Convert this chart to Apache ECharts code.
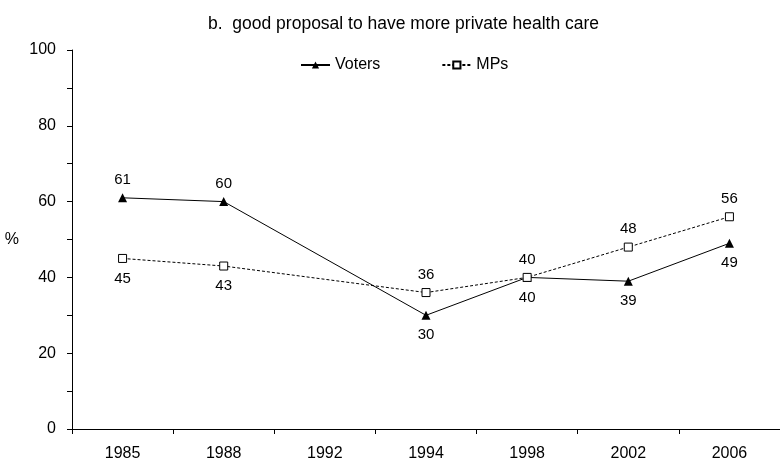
<!DOCTYPE html>
<html>
<head>
<meta charset="utf-8">
<script src="https://cdn.jsdelivr.net/npm/echarts@6/dist/echarts.min.js"></script>
<style>
html,body{margin:0;padding:0;background:#fff;}
#chart{width:780px;height:468px;}
</style>
</head>
<body>
<div id="chart"></div>
<script>
const categories = ['1985', '1988', '1992', '1994', '1998', '2002', '2006'];
const voters = [61, 60, null, 30, 40, 39, 49];
const mps = [45, 43, null, 36, 40, 48, 56];
const votersLabelPos = ['top', 'top', 'top', 'bottom', 'bottom', 'bottom', 'bottom'];
const mpsLabelPos = ['bottom', 'bottom', 'top', 'top', 'top', 'top', 'top'];
const yTicks = [0, 20, 40, 60, 80, 100];

const FONT = '"Liberation Sans", Arial, sans-serif';

function build(values, positions) {
  return values.map((v, i) => v === null ? null : {
    value: v,
    label: { position: positions[i], distance: positions[i] === 'top' ? 6 : 8 }
  });
}

const chart = echarts.init(document.getElementById('chart'), null, { renderer: 'canvas' });
chart.setOption({
  animation: false,
  backgroundColor: '#fff',
  textStyle: { fontFamily: FONT },
  title: {
    text: 'b.  good proposal to have more private health care',
    left: 203,
    top: 10,
    textStyle: { fontFamily: FONT, fontSize: 17.5, fontWeight: 'normal', color: '#000' }
  },
  legend: {
    left: 295,
    top: 52,
    itemWidth: 29,
    itemHeight: 9,
    itemGap: 61,
    textStyle: { fontFamily: FONT, fontSize: 16, color: '#000' },
    data: ['Voters', 'MPs']
  },
  grid: { left: 72, top: 50, width: 713, bottom: 39 },
  xAxis: {
    type: 'category',
    data: categories,
    boundaryGap: true,
    axisLine: { lineStyle: { color: '#000', width: 1 } },
    axisTick: { show: true, length: 5, lineStyle: { color: '#000' } },
    axisLabel: { color: '#000', fontSize: 16, fontFamily: FONT, margin: 17 }
  },
  yAxis: {
    type: 'value',
    min: yTicks[0],
    max: yTicks[yTicks.length - 1],
    interval: 20,
    name: '%',
    nameLocation: 'middle',
    nameRotate: 0,
    nameGap: 53,
    nameTextStyle: { color: '#000', fontSize: 16, fontFamily: FONT },
    splitLine: { show: false },
    axisLine: { show: true, lineStyle: { color: '#000', width: 1 } },
    axisTick: { show: true, length: 5, lineStyle: { color: '#000' } },
    minorTick: { show: true, splitNumber: 2, length: 5, lineStyle: { color: '#000' } },
    axisLabel: { color: '#000', fontSize: 16, fontFamily: FONT, margin: 16 }
  },
  series: [
    {
      name: 'Voters',
      type: 'line',
      data: build(voters, votersLabelPos),
      connectNulls: true,
      symbol: 'triangle',
      symbolSize: 9,
      itemStyle: { color: '#000', borderColor: '#000', borderWidth: 0 },
      lineStyle: { color: '#000', width: 1, type: 'solid' },
      label: { show: true, fontSize: 15, color: '#000', fontFamily: FONT }
    },
    {
      name: 'MPs',
      type: 'line',
      data: build(mps, mpsLabelPos),
      connectNulls: true,
      symbol: 'rect',
      symbolSize: 8,
      showAllSymbol: true,
      itemStyle: { color: '#fff', borderColor: '#000', borderWidth: 1 },
      lineStyle: { color: '#000', width: 1, type: [3, 2] },
      label: { show: true, fontSize: 15, color: '#000', fontFamily: FONT }
    }
  ]
});
</script>
</body>
</html>
